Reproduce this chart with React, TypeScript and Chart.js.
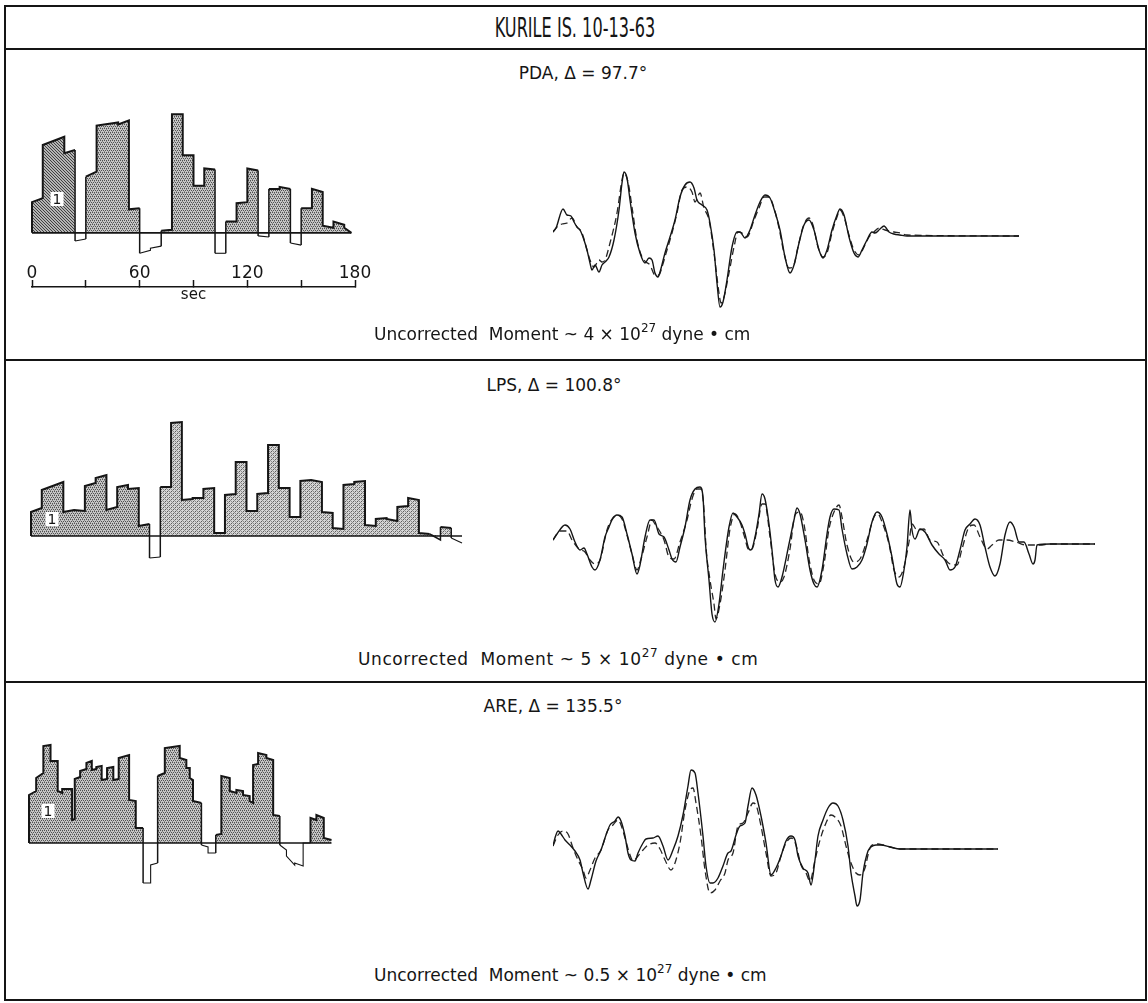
import React, { useEffect, useRef } from "react";
import { Chart, registerables } from "chart.js";

Chart.register(...registerables);

type Pt = [number, number];

// ---------------- text ----------------
const TITLE = "KURILE IS. 10-13-63";
const STATIONS = ["PDA", "LPS", "ARE"];
const DISTANCES = ["97.7°", "100.8°", "135.5°"];
const MOMENTS = ["4", "5", "0.5"];
const MOMENT_EXP = "27";
const SUBEVENT_LABEL = "1";

// ---------------- time axis under the PDA source function ----------------
const AXIS_TICKS = [0, 30, 60, 90, 120, 150, 180];
const AXIS_LABELS = [0, 60, 120, 180];
const AXIS_UNIT = "sec";

// ---------------- source time functions  [time (s), amplitude] ----------------
const PDA_STF: Pt[] = [
  [0, 0], [0, 30], [6, 34], [6, 86], [18, 94], [18, 78], [24, 81], [24, -8], [30, -6], [30, 55],
  [36, 60], [36, 105], [48, 108], [48, 106], [54, 110], [54, 23], [60, 24], [60, -20], [66, -17],
  [66, -15], [72, -13], [72, 2], [78, 3], [78, 116], [84, 116], [84, 76], [90, 76], [90, 46],
  [96, 46], [96, 63], [102, 62], [102, -20], [108, -20], [108, 11], [114, 11], [114, 29], [120, 30],
  [120, 63], [126, 61], [126, -3], [132, -4], [132, 43], [138, 43], [138, 45], [144, 43], [144, -10],
  [150, -12], [150, 24], [156, 24], [156, 43], [162, 40], [162, 7], [168, 5], [168, 11], [174, 8],
  [174, 5], [178, 0],
];
const LPS_STF: Pt[] = [
  [0, 0], [0, 24], [6, 28], [6, 46], [18, 54], [18, 24], [24, 26], [30, 25], [30, 50], [36, 53],
  [36, 58], [42, 61], [42, 26], [48, 29], [48, 49], [54, 51], [54, 47], [60, 48], [60, 10], [66, 12],
  [66, -22], [72, -21], [72, 49], [78, 49], [78, 113], [84, 114], [84, 36], [90, 37], [90, 38],
  [96, 38], [96, 47], [102, 48], [102, 3], [108, 3], [108, 41], [114, 42], [114, 74], [120, 74],
  [120, 25], [126, 25], [126, 42], [132, 43], [132, 91], [138, 91], [138, 48], [144, 48], [144, 19],
  [150, 19], [150, 55], [156, 56], [162, 54], [162, 24], [168, 23], [168, 8], [174, 7], [174, 51],
  [180, 52], [180, 54], [186, 55], [186, 11], [192, 10], [192, 17], [198, 18], [198, 17], [204, 15],
  [204, 29], [210, 30], [210, 38], [216, 36], [216, 3], [222, 2], [228, -4], [228, 9], [234, 8],
  [234, -2], [240, -7],
];
const ARE_STF: Pt[] = [
  [0, 0], [0, 48], [4, 52], [4, 65], [8, 70], [8, 97], [12, 98], [12, 82], [16, 82], [16, 52],
  [18.5, 50], [18.5, 54], [24, 54], [24, 23], [25.5, 24], [25.5, 64], [28.5, 66], [28.5, 72],
  [32, 74], [32, 80], [35, 82], [35, 73], [37.5, 74], [37.5, 76], [40.5, 77], [40.5, 63],
  [43.5, 64], [43.5, 75], [47, 76], [47, 63], [50, 64], [50, 85], [55.8, 88], [55.8, 43],
  [59.5, 42], [59.5, 15], [63.6, 15], [63.6, -40], [67.8, -40], [67.8, -22], [71.7, -20],
  [71.7, 67], [75.7, 70], [75.7, 95], [84, 97], [84, 85], [87.7, 83], [87.7, 75], [89.6, 75],
  [89.6, 65], [91.4, 63], [91.4, 42], [96.1, 40], [96.1, -2], [99.8, -4], [99.8, -10],
  [104.1, -10], [104.1, 8], [107.2, 9], [107.2, 67], [111.9, 65], [111.9, 52], [115.6, 50],
  [115.6, 53], [119.3, 52], [119.3, 48], [123, 47], [123, 42], [124.9, 40], [124.9, 78],
  [127.7, 79], [127.7, 90], [132.3, 88], [132.3, 85], [136.1, 83], [136.1, 28], [139.8, 27],
  [139.8, -2], [143.5, -7], [143.5, -13], [148.1, -22], [148.1, -20], [152.8, -23], [152.8, 0],
  [156.9, 0], [156.9, 25], [160.2, 23], [160.2, 28], [164.3, 25], [164.3, 5], [168.6, 3],
];
// end of the first sub-event ("1") in each source function (s)
const SUBEVENT_END = [24, 66, 24];

// ---------------- seismograms  [time, amplitude] : observed (solid), synthetic (dashed) ----------------
const PDA_OBS: Pt[] = [
  [0, 4], [3, 8], [10, 27], [14, 21], [18, 20], [21, 14], [24, 9], [27, 6], [31, -4], [34, -14],
  [37, -27], [39, -34], [42, -29], [46, -36], [49, -29], [52, -26], [56, -21], [61, -4], [66, 26],
  [69, 53], [71, 64], [74, 58], [77, 36], [82, 3], [87, -17], [92, -27], [96, -22], [99, -24],
  [102, -37], [105, -41], [107, -36], [112, -17], [117, -1], [122, 16], [127, 39], [132, 51],
  [137, 54], [141, 48], [144, 36], [149, 31], [154, 26], [157, 13], [161, -14], [164, -47],
  [167, -71], [170, -66], [174, -44], [179, -11], [184, 4], [187, 4], [192, -2], [197, 6],
  [202, 21], [207, 34], [212, 41], [217, 38], [222, 24], [227, 6], [232, -21], [237, -37],
  [241, -29], [246, -7], [251, 11], [256, 16], [261, 6], [266, -14], [270, -22], [274, -14],
  [279, 6], [284, 21], [287, 27], [291, 21], [296, -1], [301, -17], [305, -21], [309, -14],
  [314, -4], [319, 4], [322, 3], [327, 7], [331, 10], [336, 4], [341, 2], [347, 1], [354, 0],
  [466, 0],
];
const PDA_SYN: Pt[] = [
  [0, 4], [4, 9], [9, 12], [14, 13], [19, 18], [24, 9], [29, 3], [34, -14], [37, -24], [41, -31],
  [46, -24], [49, -26], [52, -24], [57, -7], [64, 23], [69, 56], [71, 63], [75, 54], [79, 29],
  [84, -4], [89, -21], [93, -26], [97, -29], [102, -39], [106, -39], [109, -31], [114, -14],
  [119, 3], [124, 23], [129, 46], [134, 49], [139, 44], [142, 34], [147, 43], [151, 28], [156, 16],
  [161, -17], [166, -57], [168, -67], [171, -61], [176, -37], [181, -11], [185, 4], [189, 3],
  [194, -1], [201, 16], [206, 28], [211, 39], [216, 39], [221, 28], [226, 8], [231, -17],
  [236, -32], [240, -31], [245, -11], [250, 9], [256, 18], [260, 11], [265, -11], [270, -21],
  [274, -17], [279, 3], [284, 19], [287, 26], [291, 19], [296, 1], [301, -14], [306, -19],
  [311, -11], [316, -1], [321, 4], [326, 8], [332, 6], [341, 4], [347, 3], [354, 1], [466, 0],
];
const LPS_OBS: Pt[] = [
  [0, 2], [4, 8], [12, 17], [17, 13], [22, 0], [27, -8], [31, -6], [34, -12], [39, -25], [42, -28],
  [47, -18], [52, 5], [56, 15], [59, 22], [64, 27], [69, 25], [74, 8], [79, -12], [84, -32],
  [87, -23], [92, 5], [97, 22], [101, 22], [106, 8], [111, 5], [116, -8], [119, -17], [123, -20],
  [127, -5], [132, 15], [137, 42], [142, 53], [147, 55], [150, 45], [152, 5], [156, -38],
  [159, -72], [162, -80], [166, -62], [170, -28], [176, 15], [180, 29], [184, 25], [189, 17],
  [192, 8], [196, -7], [198, -8], [202, 5], [206, 28], [209, 48], [212, 43], [216, 18], [219, -8],
  [222, -38], [225, -45], [229, -35], [236, -2], [241, 22], [244, 34], [247, 28], [252, 2],
  [257, -28], [261, -42], [264, -45], [269, -28], [274, 8], [277, 25], [281, 33], [286, 32],
  [289, 13], [294, -12], [299, -27], [304, -25], [309, -18], [314, -2], [319, 20], [324, 30],
  [329, 25], [334, 8], [339, -15], [344, -42], [347, -45], [351, -28], [354, -5], [357, 32],
  [359, 12], [362, 3], [367, 13], [372, 10], [379, -3], [386, -12], [392, -18], [397, -28],
  [402, -25], [407, -8], [412, 12], [417, 18], [422, 23], [427, 17], [432, -5], [437, -25],
  [442, -34], [447, -22], [452, 7], [457, 20], [461, 15], [466, 0], [471, 0], [476, -12],
  [480, -22], [482, -18], [484, -3], [497, -2], [542, -2],
];
const LPS_SYN: Pt[] = [
  [0, 2], [7, 11], [14, 11], [19, 2], [26, -7], [32, -10], [37, -18], [42, -22], [47, -18],
  [54, 12], [59, 23], [64, 27], [69, 23], [74, 7], [79, -12], [84, -28], [88, -17], [94, 5],
  [99, 22], [102, 18], [106, 12], [111, 2], [116, -15], [121, -17], [127, 0], [134, 22],
  [139, 43], [144, 53], [148, 53], [151, 32], [153, -5], [157, -38], [161, -62], [163, -77],
  [167, -62], [172, -28], [177, 13], [182, 28], [187, 20], [191, 7], [196, -8], [199, -7],
  [204, 12], [209, 38], [212, 38], [217, 5], [222, -32], [227, -40], [231, -35], [237, -7],
  [242, 27], [247, 30], [251, 18], [256, -17], [261, -38], [266, -42], [271, -22], [276, 13],
  [281, 30], [286, 37], [289, 25], [294, -3], [301, -20], [307, -17], [314, 2], [321, 25],
  [325, 28], [329, 20], [336, -2], [341, -28], [346, -35], [351, -25], [356, 0], [359, 18],
  [364, 12], [371, 13], [377, 2], [384, 0], [391, -15], [397, -22], [404, -23], [409, -7],
  [416, 15], [421, 17], [427, 5], [434, -7], [439, -3], [446, 2], [454, 2], [463, 0], [473, -3],
  [487, -3], [497, -2], [542, -2],
];
const ARE_OBS: Pt[] = [
  [0, 2], [2, 10], [5, 17], [8, 14], [12, 8], [17, 3], [22, -3], [27, -12], [30, -25], [35, -41],
  [38, -32], [43, -13], [48, -2], [53, 13], [57, 23], [62, 27], [65, 31], [68, 27], [72, 12],
  [75, -5], [78, -12], [82, -13], [85, -5], [90, 5], [93, 9], [100, 10], [105, 12], [110, 2],
  [115, -12], [120, -2], [125, 12], [130, 33], [135, 62], [138, 78], [142, 75], [145, 55],
  [150, 12], [153, -18], [157, -35], [160, -35], [165, -30], [170, -18], [175, -5], [178, -3],
  [183, 13], [187, 22], [192, 25], [195, 42], [199, 60], [203, 53], [208, 32], [213, 5],
  [218, -27], [223, -20], [228, -8], [233, 7], [238, 12], [242, 8], [245, -8], [250, -20],
  [255, -25], [258, -37], [262, -12], [265, 12], [270, 28], [275, 40], [280, 45], [285, 42],
  [290, 28], [295, 2], [298, -25], [302, -48], [304, -58], [307, -52], [310, -25], [315, -3],
  [318, 1], [323, 3], [328, 3], [337, 1], [347, -1], [445, -1],
];
const ARE_SYN: Pt[] = [
  [0, 2], [5, 13], [10, 17], [15, 14], [20, 0], [25, -12], [30, -22], [33, -30], [37, -22],
  [42, -10], [48, -2], [55, 18], [60, 23], [65, 28], [68, 23], [72, 10], [77, -7], [80, -13],
  [85, -8], [90, -2], [95, 3], [102, 5], [107, -1], [112, -12], [118, -22], [122, -15], [127, 5],
  [132, 38], [137, 58], [140, 60], [143, 45], [148, 12], [152, -22], [157, -45], [162, -42],
  [167, -33], [172, -25], [175, -12], [180, -5], [185, 22], [190, 25], [195, 35], [200, 45],
  [203, 43], [208, 22], [213, -5], [218, -28], [223, -25], [228, -8], [233, 5], [238, 10],
  [243, 3], [248, -17], [253, -25], [257, -33], [262, -12], [267, 8], [273, 25], [278, 33],
  [283, 30], [288, 22], [293, 2], [298, -15], [303, -25], [307, -27], [312, -20], [315, -7],
  [318, 2], [325, 4], [330, 3], [337, 1], [347, -1], [445, -1],
];

// ---------------- layout / style ----------------
const INK = "#151515";
const FONT = "'DejaVu Sans', 'Noto Sans', sans-serif";

const STF_BOXES = [
  { left: 7, top: 90, width: 373, height: 216, xMax: 180, yMin: -53, yMax: 130, pad: { left: 25, right: 25, top: 10, bottom: 0 } },
  { left: 21, top: 401, width: 451, height: 175, xMax: 240, yMin: -30, yMax: 125, pad: 10 },
  { left: 19, top: 728, width: 325, height: 170, xMax: 170, yMin: -45, yMax: 105, pad: 10 },
];
const SEIS_BOXES = [
  { left: 543, top: 146, width: 486, height: 180, xMax: 466, yMin: -80, yMax: 80 },
  { left: 543, top: 462, width: 562, height: 180, xMax: 542, yMin: -90, yMax: 70 },
  { left: 543, top: 753, width: 465, height: 170, xMax: 445, yMin: -65, yMax: 85 },
];

function makePattern(kind: "dark" | "mid" | "light"): CanvasPattern | string {
  const c = document.createElement("canvas");
  const g = c.getContext("2d");
  if (!g) return "#999";
  if (kind === "dark") {
    c.width = 3; c.height = 3;
    g.fillStyle = "#b4b4b4"; g.fillRect(0, 0, 3, 3);
    g.fillStyle = "#404040";
    g.fillRect(0, 0, 1, 1); g.fillRect(1, 1, 1, 1); g.fillRect(2, 2, 1, 1);
  } else if (kind === "mid") {
    c.width = 4; c.height = 4;
    g.fillStyle = "#c6c6c6"; g.fillRect(0, 0, 4, 4);
    g.fillStyle = "#505050";
    g.fillRect(0, 0, 1, 1); g.fillRect(2, 0, 1, 1); g.fillRect(1, 2, 1, 1); g.fillRect(3, 2, 1, 1);
    g.fillStyle = "#8a8a8a";
    g.fillRect(1, 1, 1, 1); g.fillRect(3, 3, 1, 1);
  } else {
    c.width = 4; c.height = 4;
    g.fillStyle = "#d6d6d6"; g.fillRect(0, 0, 4, 4);
    g.fillStyle = "#5c5c5c";
    g.fillRect(0, 0, 1, 1); g.fillRect(2, 2, 1, 1);
    g.fillStyle = "#8c8c8c";
    g.fillRect(1, 3, 1, 1); g.fillRect(3, 1, 1, 1); g.fillRect(2, 0, 1, 1); g.fillRect(0, 2, 1, 1);
  }
  return g.createPattern(c, "repeat") || "#999";
}

const baseOptions = (box: any, pad: any) => ({
  animation: false,
  responsive: false,
  devicePixelRatio: 1,
  events: [],
  layout: { padding: pad },
  plugins: { legend: { display: false }, tooltip: { enabled: false }, title: { display: false } },
  scales: {
    x: { type: "linear", min: 0, max: box.xMax, display: false },
    y: { type: "linear", min: box.yMin, max: box.yMax, display: false },
  },
});

function stfConfig(idx: number) {
  const data = [PDA_STF, LPS_STF, ARE_STF][idx];
  const box: any = STF_BOXES[idx];
  const split = SUBEVENT_END[idx];
  const fills = [
    [makePattern("dark"), makePattern("mid")],
    [makePattern("mid"), makePattern("light")],
    [makePattern("mid"), makePattern("mid")],
  ][idx];
  const pos = data.map(([t, a]) => ({ x: t, y: Math.max(0, a) }));
  const early = pos.filter((p) => p.x <= split);
  const late = pos.filter((p) => p.x >= split);
  const end = data[data.length - 1][0];
  const opts: any = baseOptions(box, box.pad);
  if (idx === 0) {
    opts.scales.x = {
      type: "linear",
      min: 0,
      max: box.xMax,
      display: true,
      position: "bottom",
      afterBuildTicks: (axis: any) => {
        axis.ticks = AXIS_TICKS.map((v) => ({ value: v }));
      },
      grid: { display: true, drawOnChartArea: false, drawTicks: true, tickLength: -7, tickWidth: 1.5, tickColor: INK },
      border: { display: true, color: INK, width: 1.5 },
      ticks: {
        mirror: true,
        padding: 3,
        autoSkip: false,
        maxRotation: 0,
        color: INK,
        font: { family: FONT, size: 17 },
        callback: (v: any) => (AXIS_LABELS.includes(Number(v)) ? String(v) : ""),
      },
      title: { display: true, text: AXIS_UNIT, color: INK, padding: { top: 0, bottom: 2 }, font: { family: FONT, size: 15 } },
    };
  }
  return {
    type: "line",
    data: {
      datasets: [
        {
          data: data.map(([t, a]) => ({ x: t, y: a })),
          borderColor: INK,
          borderWidth: 2,
          pointRadius: 0,
          tension: 0,
          fill: false,
          clip: false,
          segment: {
            borderWidth: (c: any) => (Math.max(c.p0.parsed.y, c.p1.parsed.y) <= 0 ? 1.1 : Math.min(c.p0.parsed.y, c.p1.parsed.y) < 0 ? 1.5 : 2),
          },
        },
        {
          data: [{ x: 0, y: 0 }, { x: end, y: 0 }],
          borderColor: INK,
          borderWidth: 1.6,
          pointRadius: 0,
          fill: false,
          clip: false,
        },
        { data: early, borderColor: "rgba(0,0,0,0)", borderWidth: 0, pointRadius: 0, tension: 0, fill: "origin", backgroundColor: fills[0], clip: false },
        { data: late, borderColor: "rgba(0,0,0,0)", borderWidth: 0, pointRadius: 0, tension: 0, fill: "origin", backgroundColor: fills[1], clip: false },
      ],
    },
    options: opts,
  };
}

function seisConfig(idx: number) {
  const obs = [PDA_OBS, LPS_OBS, ARE_OBS][idx];
  const syn = [PDA_SYN, LPS_SYN, ARE_SYN][idx];
  const box: any = SEIS_BOXES[idx];
  return {
    type: "line",
    data: {
      datasets: [
        {
          data: obs.map(([t, a]) => ({ x: t, y: a })),
          borderColor: INK,
          borderWidth: 1.4,
          pointRadius: 0,
          cubicInterpolationMode: "monotone",
          fill: false,
        },
        {
          data: syn.map(([t, a]) => ({ x: t, y: a })),
          borderColor: "#262626",
          borderWidth: 1.3,
          borderDash: [7, 4],
          pointRadius: 0,
          cubicInterpolationMode: "monotone",
          fill: false,
        },
      ],
    },
    options: baseOptions(box, 10),
  };
}

function PlotCanvas(props: { box: { left: number; top: number; width: number; height: number }; build: () => any }) {
  const ref = useRef<HTMLCanvasElement | null>(null);
  const { left, top, width, height } = props.box;
  useEffect(() => {
    if (!ref.current) return;
    const chart = new Chart(ref.current, props.build());
    return () => chart.destroy();
  }, []);
  return <canvas ref={ref} width={width} height={height} style={{ position: "absolute", left, top, width, height }} />;
}

const centered = (x: number, y: number, size: number, extra: any = {}) => ({
  position: "absolute" as const,
  left: x,
  top: y,
  transform: "translate(-50%, -50%)",
  whiteSpace: "pre" as const,
  fontSize: size,
  lineHeight: 1,
  ...extra,
});

const LABEL_POS = [
  { x: 583, y: 73 },
  { x: 554, y: 385 },
  { x: 553, y: 706 },
];
const MOMENT_POS = [
  { x: 374, y: 334 },
  { x: 358, y: 659 },
  { x: 374, y: 975 },
];
const MOMENT_SPACING = [0, 0.6, 0];
const SUB_POS = [
  { x: 57, y: 199 },
  { x: 52, y: 519 },
  { x: 48, y: 811 },
];

export default function App() {
  return (
    <div
      style={{
        position: "absolute",
        left: 0,
        top: 0,
        width: 1148,
        height: 1003,
        background: "#fff",
        overflow: "hidden",
        fontFamily: FONT,
        color: INK,
      }}
    >
      <div style={{ position: "absolute", left: 4, top: 5, width: 1143, height: 996, border: `2px solid ${INK}`, boxSizing: "border-box" }} />
      {[48, 359, 681].map((y) => (
        <div key={y} style={{ position: "absolute", left: 4, top: y, width: 1143, height: 2, background: INK }} />
      ))}

      <div style={centered(575, 28, 26, { transform: "translate(-50%, -50%) scaleX(0.62)" })}>{TITLE}</div>

      {STF_BOXES.map((b, i) => (
        <PlotCanvas key={"stf" + i} box={b} build={() => stfConfig(i)} />
      ))}
      {SEIS_BOXES.map((b, i) => (
        <PlotCanvas key={"seis" + i} box={b} build={() => seisConfig(i)} />
      ))}

      {STATIONS.map((s, i) => (
        <div key={"st" + i} style={centered(LABEL_POS[i].x, LABEL_POS[i].y, 17)}>
          {`${s}, Δ = ${DISTANCES[i]}`}
        </div>
      ))}

      {MOMENTS.map((m, i) => (
        <div
          key={"m" + i}
          style={{
            position: "absolute",
            left: MOMENT_POS[i].x,
            top: MOMENT_POS[i].y,
            transform: "translateY(-50%)",
            whiteSpace: "pre",
            fontSize: 17,
            lineHeight: 1,
            letterSpacing: MOMENT_SPACING[i],
          }}
        >
          {`Uncorrected  Moment ~ ${m} × 10`}
          <span style={{ fontSize: 12, position: "relative", top: -8 }}>{MOMENT_EXP}</span>
          {" dyne • cm"}
        </div>
      ))}

      {SUB_POS.map((p, i) => (
        <div
          key={"sub" + i}
          style={centered(p.x, p.y, 14, { background: "#fff", padding: "0 2px", lineHeight: "14px" })}
        >
          {SUBEVENT_LABEL}
        </div>
      ))}
    </div>
  );
}
